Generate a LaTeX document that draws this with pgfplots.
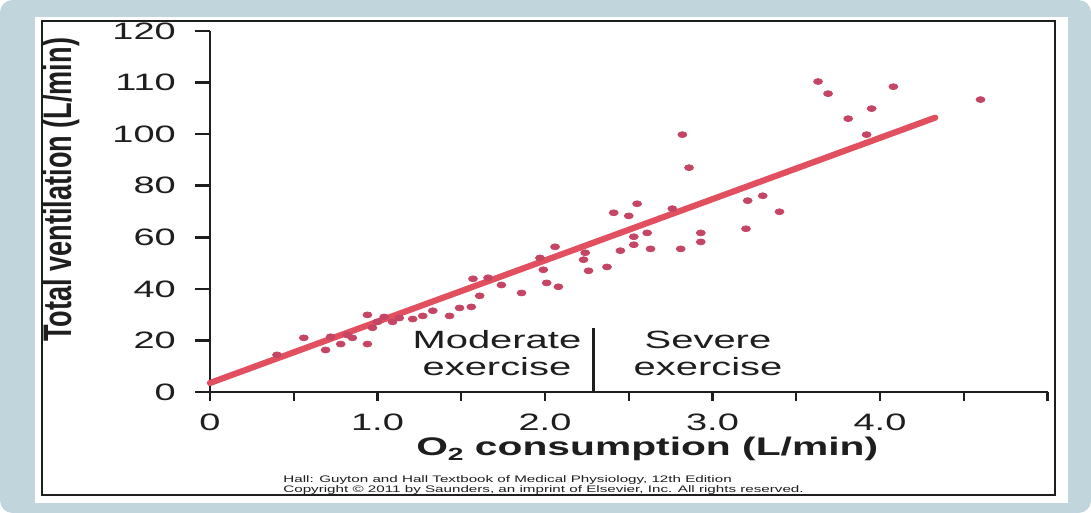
\documentclass[border=0pt]{standalone}
\usepackage{fontspec}
\usepackage{pgfplots}
\pgfplotsset{compat=1.18}
\setmainfont{Liberation Sans}[FakeStretch=1.6]
\newfontfamily\ylabfont{Liberation Sans}[FakeStretch=0.68]
\definecolor{frameblue}{RGB}{193,213,220}
\definecolor{fitred}{RGB}{226,80,96}
\definecolor{dotred}{RGB}{196,70,100}
\definecolor{ink}{RGB}{30,30,30}

\begin{document}
\begin{tikzpicture}
% outer frame (1px = 0.02cm)
\fill[frameblue,rounded corners=0.25cm] (0,0) rectangle (21.82,10.26);
\fill[white] (0.70,0.20) rectangle (21.36,9.92);
\draw[ink,line width=0.8pt] (0.84,0.36) rectangle (21.10,9.84);

\begin{axis}[
at={(4.20cm,2.42cm)},anchor=south west,
scale only axis,
width=16.75cm,height=7.22cm,
xmin=0,xmax=5,ymin=0,ymax=140,
axis x line*=bottom,axis y line*=left,
axis line style={-,line width=1.4pt,ink},
tick align=outside,
major tick length=0.3cm,
xtick style={/pgfplots/major tick length=0.18cm,line width=1.4pt,ink},
ytick style={line width=1.4pt,ink},
xtick={0,0.5,1,1.5,2,2.5,3,3.5,4,4.5,5},
xticklabels={0,,1.0,,2.0,,3.0,,4.0,,},
ytick={0,20,40,60,80,100,120,140},
yticklabels={0,20,40,60,80,100,110,120},
ticklabel style={font=\fontsize{13.5}{16}\selectfont,text=ink},
yticklabel style={xshift=-0.26cm},
xticklabel style={yshift=-0.02cm},
xlabel={\textbf{O\raisebox{-0.35ex}{\fontsize{10}{12}\selectfont 2} consumption (L/min)}},
x label style={at={(axis description cs:0.522,-0.158)},anchor=center,
  font=\fontsize{14.5}{18}\selectfont,text=ink},
ylabel={\textbf{Total ventilation (L/min)}},
y label style={at={(axis description cs:-0.178,0.56)},anchor=center,rotate=0,
  font=\ylabfont\fontsize{22.7}{26}\selectfont,text=ink},
clip=false,
]
% regression line
\addplot[fitred,line width=3.5pt,line cap=round] coordinates {(0,3.5) (4.33,106.4)};
% measured points (y in drawn units: 100 -> 110 -> 120 spaced like 20 steps)
\addplot[only marks,mark=*,mark size=1.7pt,dotred,mark options={xscale=1.5,draw=none}] coordinates {
(0.40,14.4) (0.56,21.0) (0.69,16.3) (0.72,21.4) (0.78,18.6) (0.82,22.1)
(0.85,21.0) (0.94,29.9) (0.94,18.6) (0.97,24.9) (1.00,27.2) (1.04,29.1)
(1.09,27.2) (1.13,28.7) (1.21,28.3) (1.27,29.5) (1.33,31.5) (1.43,29.5)
(1.49,32.6) (1.56,33.0) (1.57,43.9) (1.61,37.3) (1.66,44.3) (1.74,41.5)
(1.86,38.4) (1.97,52.0) (1.99,47.4) (2.01,42.3) (2.06,56.3) (2.08,40.8)
(2.23,51.3) (2.24,54.0) (2.26,47.0) (2.37,48.5) (2.41,69.5) (2.45,54.8)
(2.50,68.3) (2.53,57.1) (2.53,60.2) (2.55,73.0) (2.61,61.7) (2.63,55.5)
(2.76,71.1) (2.81,55.5) (2.82,99.8) (2.86,87.0) (2.93,61.7) (2.93,58.2)
(3.20,63.3) (3.21,74.2) (3.30,76.1) (3.40,69.9)
(3.63,120.4) (3.69,115.7) (3.81,106.0) (3.92,99.8) (3.95,109.9) (4.08,118.4)
(4.60,113.4)
};
% exercise zones
\draw[ink,line width=1.6pt] (axis cs:2.29,0) -- (axis cs:2.29,24.9);
\node[align=center,font=\fontsize{14.2}{15.5}\selectfont,text=ink] at (axis cs:1.713,15.1) {Moderate\\exercise};
\node[align=center,font=\fontsize{14.2}{15.5}\selectfont,text=ink] at (axis cs:2.973,15.1) {Severe\\exercise};
% credit line
\node[align=left,anchor=west,inner sep=0pt,font=\fontsize{5.4}{5.4}\selectfont,text=ink] at (axis cs:0.436,-36.0)
{Hall: Guyton and Hall Textbook of Medical Physiology, 12th Edition\\
Copyright \textcopyright{} 2011 by Saunders, an imprint of Elsevier, Inc. All rights reserved.};
\end{axis}
\end{tikzpicture}
\end{document}
